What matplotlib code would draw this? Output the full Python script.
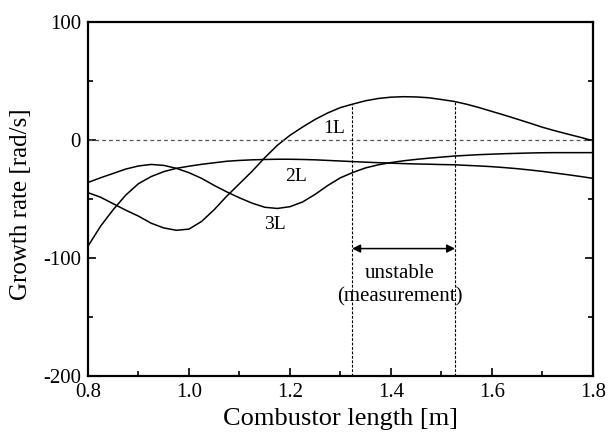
import numpy as np
import matplotlib
matplotlib.use('Agg')
import matplotlib.pyplot as plt

plt.rcParams['font.family'] = ['Liberation Serif', 'DejaVu Serif']
plt.rcParams['axes.unicode_minus'] = False

# combustor length [m], step 0.025
length = np.round(np.arange(0.8, 1.8001, 0.025), 3)

# growth rate [rad/s] of each mode
mode_1L = [-44.6, -48.5, -54, -59.5, -64.5, -70.5, -74.5, -76.5, -75.5, -69,
           -59, -47.5, -37, -26.5, -15, -4.5, 4, 11, 17.5, 23,
           27.5, 30.5, 33.3, 35.2, 36.3, 36.7, 36.5, 35.8, 34.3, 32.7,
           30.3, 27.4, 24.2, 21, 17.7, 14.3, 10.8, 7.8, 5, 2.3, -0.6]
mode_2L = [-90, -73, -59, -46.6, -37, -31, -26.8, -24, -22.2, -20.6,
           -19.3, -18, -17.3, -16.8, -16.5, -16.3, -16.3, -16.5, -16.8, -17.3,
           -17.8, -18.3, -18.8, -19.2, -19.6, -20, -20.3, -20.5, -20.8, -21,
           -21.5, -22, -22.6, -23.4, -24.3, -25.4, -26.6, -28, -29.4, -30.9, -32.5]
mode_3L = [-36, -32, -28.3, -24.6, -22, -20.7, -21.5, -24, -27.7, -32.5,
           -38.5, -44, -49, -53.5, -57, -58, -56.5, -52.5, -46, -38.5,
           -32, -27.4, -23.6, -21, -19.1, -17.6, -16.4, -15.4, -14.5, -13.6,
           -13, -12.4, -12, -11.6, -11.3, -11, -10.8, -10.7, -10.7, -10.7, -10.7]

# measured unstable range and top of the marker lines (on the 1L curve)
unstable_lo, unstable_hi = 1.323, 1.527
marker_top = [30.3, 32.6]

fig = plt.figure(figsize=(6.08, 4.34), dpi=100)
ax = fig.add_axes([0.1447, 0.1336, 0.8306, 0.8157])

for vals in (mode_1L, mode_2L, mode_3L):
    ax.plot(length, vals, color='black', lw=1.1)

ax.axhline(0, color='#555555', lw=0.9, ls=(0, (3, 2.5)))
ax.vlines([unstable_lo, unstable_hi], -200, marker_top, colors='black',
          lw=0.8, linestyles=(0, (2.5, 1.5)))

ax.annotate('', xy=(unstable_lo, -92), xytext=(unstable_hi, -92),
            arrowprops=dict(arrowstyle='<|-|>', color='black', lw=1.1,
                            mutation_scale=12, shrinkA=0, shrinkB=0))
ax.text(1.417, -123, 'unstable\n(measurement)', ha='center', va='center',
        fontsize=15, linespacing=1.25)

ax.text(1.287, 10, '1L', ha='center', va='center', fontsize=14)
ax.text(1.212, -31, '2L', ha='center', va='center', fontsize=14)
ax.text(1.170, -72, '3L', ha='center', va='center', fontsize=14)

ax.set_xlim(0.8, 1.8)
ax.set_ylim(-200, 100)
ax.set_xticks([0.8, 1.0, 1.2, 1.4, 1.6, 1.8])
ax.set_xticklabels(['0.8', '1.0', '1.2', '1.4', '1.6', '1.8'])
ax.set_xticks(np.arange(0.9, 1.8, 0.2), minor=True)
ax.set_yticks([-200, -100, 0, 100])
ax.set_yticks([-150, -50, 50], minor=True)

ax.tick_params(which='both', direction='in', top=False, right=True,
               labelsize=15, width=1.2)
ax.tick_params(which='major', length=6)
ax.tick_params(which='minor', length=3.5)
ax.tick_params(axis='x', pad=5)
ax.tick_params(axis='y', pad=5)
for s in ax.spines.values():
    s.set_linewidth(1.6)

ax.set_xlabel('Combustor length [m]', fontsize=19, labelpad=4)
ax.set_ylabel('Growth rate [rad/s]', fontsize=18, labelpad=1)
ax.yaxis.set_label_coords(-0.11, 0.485)

fig.savefig('out.png', dpi=100)
